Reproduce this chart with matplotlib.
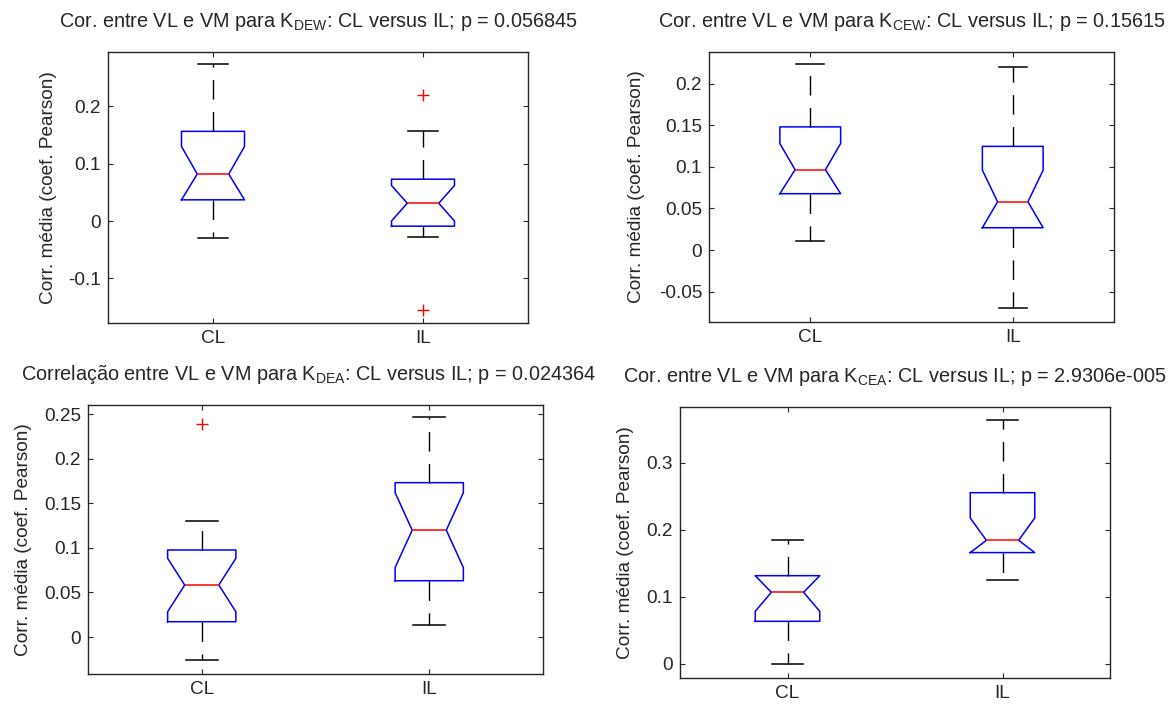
import matplotlib
matplotlib.use("Agg")
import matplotlib.pyplot as plt

plt.rcParams['font.family'] = ['Liberation Sans', 'DejaVu Sans']
plt.rcParams['mathtext.fontset'] = 'custom'
plt.rcParams['mathtext.rm'] = 'Liberation Sans'

groups = ['CL', 'IL']

# ---- panel data (box statistics) ----
titles = [
    r"Cor. entre VL e VM para K$_\mathregular{DEW}$: CL versus IL; p = 0.056845",
    r"Cor. entre VL e VM para K$_\mathregular{CEW}$: CL versus IL; p = 0.15615",
    r"Correlação entre VL e VM para K$_\mathregular{DEA}$: CL versus IL; p = 0.024364",
    r"Cor. entre VL e VM para K$_\mathregular{CEA}$: CL versus IL; p = 2.9306e-005",
]

# order per group: whislo, q1, med, q3, whishi, cilo, cihi
dew_cl = [-0.030, 0.037, 0.082, 0.1565, 0.274, 0.037, 0.130]
dew_il = [-0.028, -0.009, 0.031, 0.073, 0.1565, 0.000, 0.062]
dew_fliers = [[], [0.220, -0.155]]

cew_cl = [0.0108, 0.0677, 0.0965, 0.148, 0.2236, 0.0677, 0.128]
cew_il = [-0.070, 0.0268, 0.058, 0.1246, 0.2195, 0.0268, 0.096]
cew_fliers = [[], []]

dea_cl = [-0.0258, 0.0172, 0.0584, 0.0977, 0.1306, 0.0284, 0.0884]
dea_il = [0.0135, 0.0632, 0.120, 0.1733, 0.247, 0.078, 0.162]
dea_fliers = [[0.239], []]

cea_cl = [0.0, 0.0636, 0.1068, 0.1316, 0.1843, 0.0785, 0.1316]
cea_il = [0.1247, 0.166, 0.1843, 0.2553, 0.364, 0.166, 0.2176]
cea_fliers = [[], []]

panel_stats = [(dew_cl, dew_il, dew_fliers), (cew_cl, cew_il, cew_fliers),
               (dea_cl, dea_il, dea_fliers), (cea_cl, cea_il, cea_fliers)]

ylims = [(-0.178, 0.295), (-0.0865, 0.238), (-0.0415, 0.2605), (-0.0209, 0.383)]
yticks = [[-0.1, 0, 0.1, 0.2],
          [-0.05, 0, 0.05, 0.1, 0.15, 0.2],
          [0, 0.05, 0.1, 0.15, 0.2, 0.25],
          [0, 0.1, 0.2, 0.3]]
ytick_labels = [['-0.1', '0', '0.1', '0.2'],
                ['-0.05', '0', '0.05', '0.1', '0.15', '0.2'],
                ['0', '0.05', '0.1', '0.15', '0.2', '0.25'],
                ['0', '0.1', '0.2', '0.3']]
ylabel = 'Corr. média (coef. Pearson)'

# ---- layout (pixels in a 1173x705 canvas) ----
W, H = 1173, 705
rects_px = [(108, 52, 528, 323), (709, 52, 1114, 322),
            (88, 405, 543, 674), (680, 407, 1110, 678)]
ylabel_px = [51, 64, 56, 46.5]
title_x = [0.5, 0.5, 0.485, 0.5]

txt = '#262626'
fig = plt.figure(figsize=(W / 100, H / 100), dpi=100)

for i in range(4):
    l, t, r, b = rects_px[i]
    ax = fig.add_axes([l / W, 1 - b / H, (r - l) / W, (b - t) / H])
    cl, il, fl = panel_stats[i]
    stats = []
    for name, s, f in zip(groups, (cl, il), fl):
        stats.append(dict(label=name, whislo=s[0], q1=s[1], med=s[2], q3=s[3],
                          whishi=s[4], cilo=s[5], cihi=s[6], fliers=f))
    ax.bxp(stats, positions=[1, 2], widths=0.3, shownotches=True,
           capwidths=0.14,
           boxprops=dict(color='#0000ff', linewidth=1.1),
           medianprops=dict(color='#ff0000', linewidth=1.1),
           whiskerprops=dict(color='black', linewidth=1.0, linestyle=(0, (14, 9))),
           capprops=dict(color='black', linewidth=1.1),
           flierprops=dict(marker='+', markeredgecolor='#ff0000', markersize=9,
                           markeredgewidth=1.0, linestyle='none'))
    ax.set_xlim(0.5, 2.5)
    ax.set_ylim(*ylims[i])
    ax.set_yticks(yticks[i])
    ax.set_yticklabels(ytick_labels[i])
    ax.set_xticks([1, 2])
    ax.set_xticklabels(groups)
    ax.tick_params(direction='in', top=True, right=True, length=3.6, width=0.8,
                   labelsize=13.7, labelcolor=txt, color='#262626', pad=5)
    for sp in ax.spines.values():
        sp.set_color('#262626')
        sp.set_linewidth(1.0)
    ax.set_ylabel(ylabel, fontsize=13.7, color=txt)
    ax.yaxis.set_label_coords(-ylabel_px[i] / (r - l), 0.5)
    ax.set_title(titles[i], fontsize=14.3, color=txt, pad=18, x=title_x[i])

fig.savefig('out.png', dpi=100)
